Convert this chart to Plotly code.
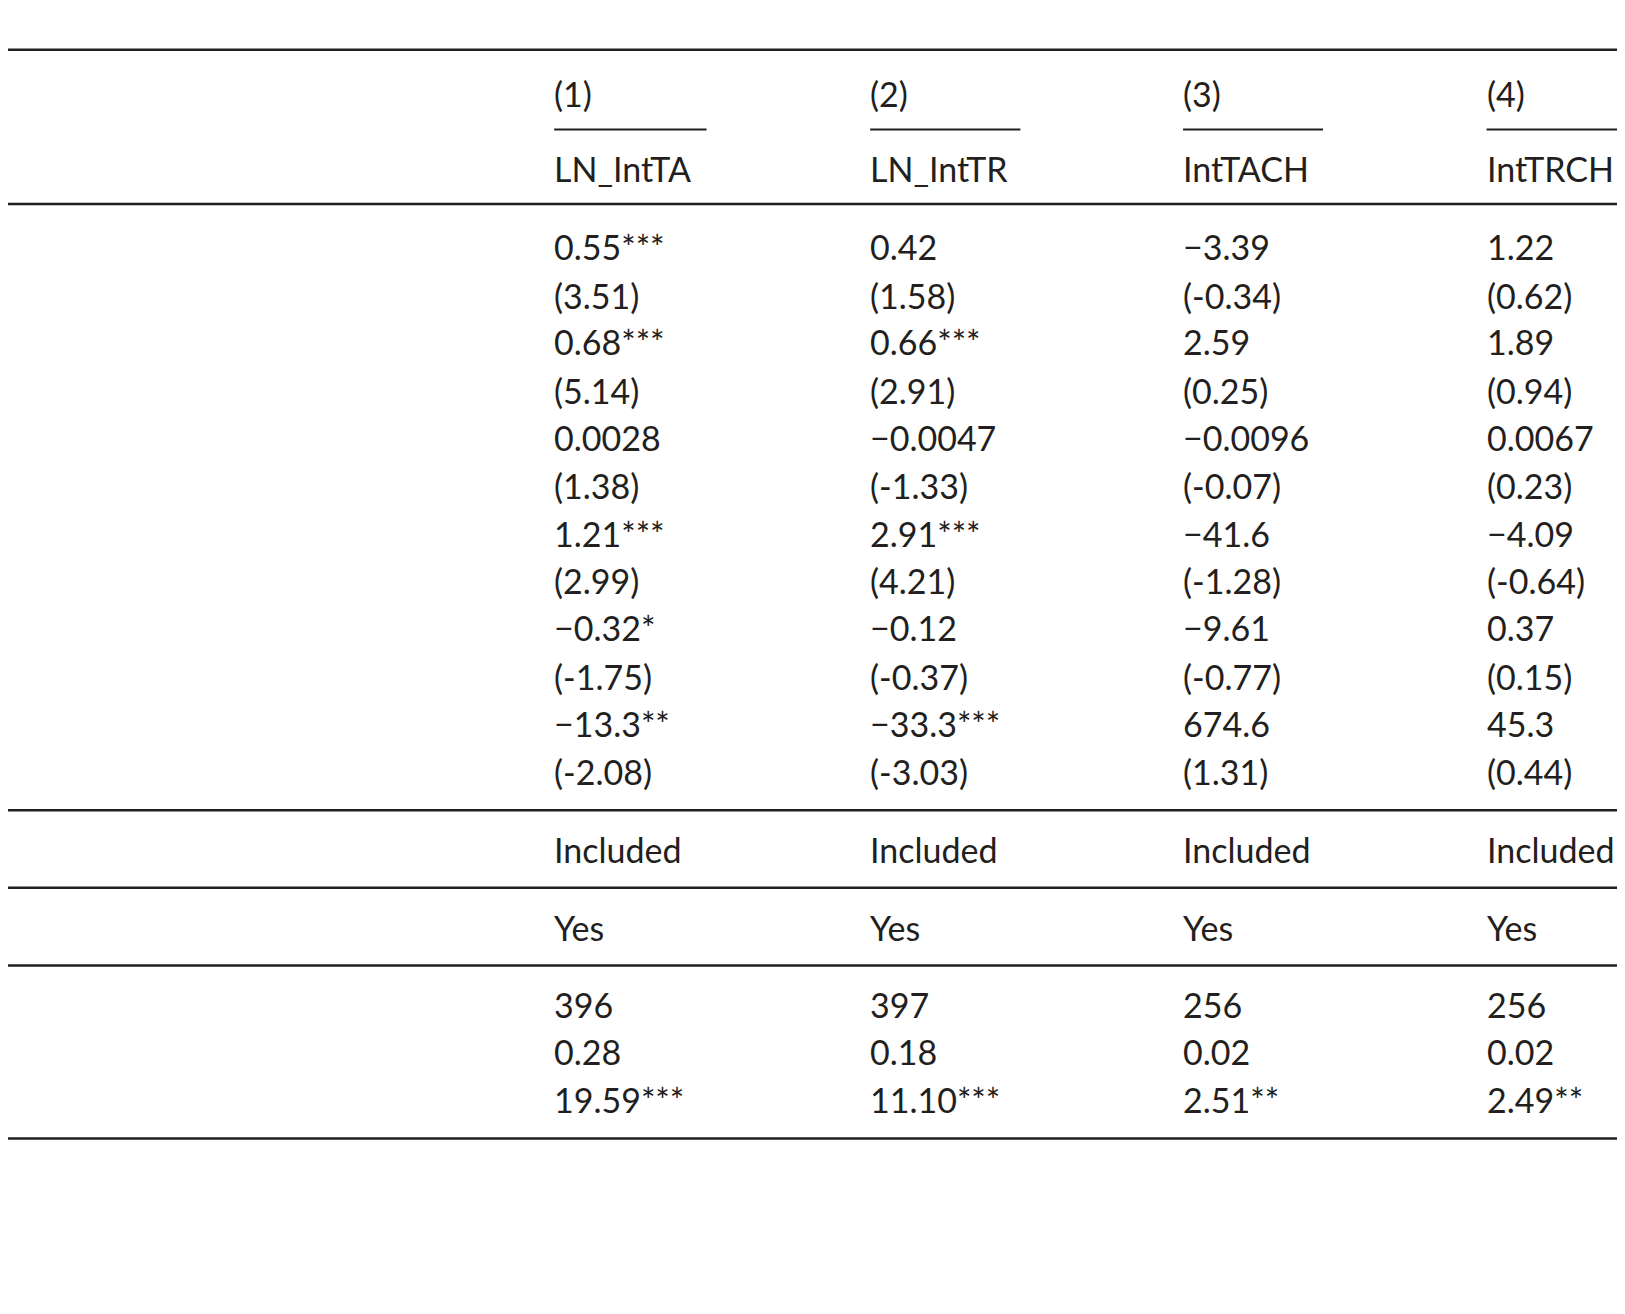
import plotly.graph_objects as go

S = 1.036
OFF = 8  # page body margin compensation
W, H = 1625, 1314

title = "<b>Table 4.</b>  Fixed-effects linear panel data analysis (level 1: Main index)."
col_nums = ["(1)", "(2)", "(3)", "(4)"]
col_names = ["LN_IntTA", "LN_IntTR", "IntTACH", "IntTRCH"]
row_labels = ["T&T_CompMainIndex_L1", "", "GDP", "", "Trade", "", "Population", "", "WGI", "", "Constant", ""]
col1 = ["0.55***", "(3.51)", "0.68***", "(5.14)", "0.0028", "(1.38)", "1.21***", "(2.99)", "−0.32*", "(-1.75)", "−13.3**", "(-2.08)"]
col2 = ["0.42", "(1.58)", "0.66***", "(2.91)", "−0.0047", "(-1.33)", "2.91***", "(4.21)", "−0.12", "(-0.37)", "−33.3***", "(-3.03)"]
col3 = ["−3.39", "(-0.34)", "2.59", "(0.25)", "−0.0096", "(-0.07)", "−41.6", "(-1.28)", "−9.61", "(-0.77)", "674.6", "(1.31)"]
col4 = ["1.22", "(0.62)", "1.89", "(0.94)", "0.0067", "(0.23)", "−4.09", "(-0.64)", "0.37", "(0.15)", "45.3", "(0.44)"]
region = ["Region", "Included", "Included", "Included", "Included"]
effects = ["Country-year effects", "Yes", "Yes", "Yes", "Yes"]
stats_labels = ["N", "R<sup>2</sup>", "F-stat"]
stats = [["396", "397", "256", "256"], ["0.28", "0.18", "0.02", "0.02"], ["19.59***", "11.10***", "2.51**", "2.49**"]]
notes = ["t statistics in parentheses.", "*<i>p</i> < 0.10.", "**<i>p</i> < 0.05.", "***<i>p</i> < 0.01."]

FONT = "Lato, Open Sans, sans-serif"
FS = 34
xcols = [0, 533 * S, 838 * S, 1140 * S, 1433 * S]
col_ends = [682, 985, 1277, 1568]

ann = []
def t(x, y, text, size=FS):
    ann.append(dict(x=x - OFF, y=y * S - OFF, xref="x", yref="y", text=text, showarrow=False,
                    xanchor="left", yanchor="middle", font=dict(family=FONT, size=size, color="#231f20")))

shapes = []
def hl(x0, x1, y, w=2.5):
    shapes.append(dict(type="line", xref="x", yref="y", x0=x0 - OFF, x1=x1 - OFF, y0=y * S - OFF, y1=y * S - OFF,
                       line=dict(color="#231f20", width=w)))

t(0, 18, title, 33)
hl(0, W, 48)
for i in range(4):
    t(xcols[i + 1], 90, col_nums[i])
    hl(xcols[i + 1] + 2, col_ends[i] * S, 125, 2)
    t(xcols[i + 1], 163, col_names[i])
t(xcols[0], 163, "Independent variables")
hl(0, W, 197)
ys = [238, 285, 330, 377, 422, 469, 515, 560, 606, 653, 698, 745]
for k, y in enumerate(ys):
    if row_labels[k]:
        t(xcols[0], y, row_labels[k])
    for j, col in enumerate([col1, col2, col3, col4]):
        t(xcols[j + 1], y, col[k])
hl(0, W, 782)
for j, v in enumerate(region):
    t(xcols[j], 820, v)
hl(0, W, 857)
for j, v in enumerate(effects):
    t(xcols[j], 895, v)
hl(0, W, 932)
for k, y in enumerate([970, 1015, 1061]):
    t(xcols[0], y, stats_labels[k])
    for j in range(4):
        t(xcols[j + 1], y, stats[k][j])
hl(0, W, 1099)
for k, y in enumerate([1137, 1175, 1212, 1250]):
    t(xcols[0], y, notes[k], 30)

fig = go.Figure()
fig.update_layout(width=W, height=H, margin=dict(l=0, r=0, t=0, b=0),
                  paper_bgcolor="white", plot_bgcolor="white",
                  xaxis=dict(range=[0, W], visible=False, fixedrange=True),
                  yaxis=dict(range=[H, 0], visible=False, fixedrange=True),
                  annotations=ann, shapes=shapes, showlegend=False)
fig.write_html("out.html", config={"displayModeBar": False})
